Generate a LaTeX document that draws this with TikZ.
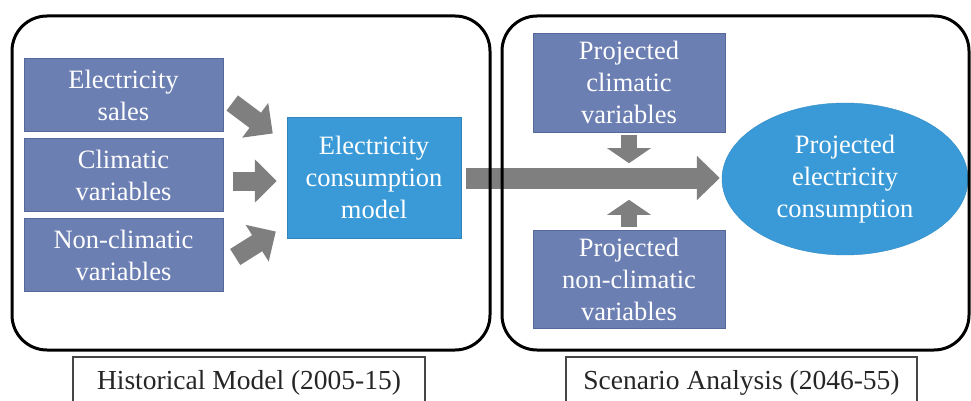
\documentclass[tikz,border=0pt]{standalone}
\usepackage{fontspec}
\setmainfont{Liberation Serif}
\usepackage{xcolor}
\usepackage{tikz}
\usetikzlibrary{shapes.geometric,arrows.meta,calc}
\definecolor{slateblue}{RGB}{108,127,178}
\definecolor{slateedge}{RGB}{86,104,154}
\definecolor{modelblue}{RGB}{58,154,216}
\definecolor{arrowgray}{RGB}{127,127,127}
\definecolor{capgray}{RGB}{70,70,70}

\begin{document}
\begin{tikzpicture}[x=1pt, y=-1pt, node distance=80pt]
    \tikzstyle{input} = [rectangle, minimum width=199pt, minimum height=73pt, inner sep=0pt, align=center, draw=slateedge, fill=slateblue, text=white, font=\fontsize{26.5}{32}\selectfont]
    \tikzstyle{model} = [rectangle, minimum width=174pt, minimum height=121pt, inner sep=0pt, align=center, draw=modelblue!85!black, fill=modelblue, text=white, font=\fontsize{26.5}{32}\selectfont]
    \tikzstyle{result} = [ellipse, minimum width=246pt, minimum height=152pt, inner sep=0pt, align=center, draw=modelblue!90!black, fill=modelblue, text=white, font=\fontsize{26.5}{32}\selectfont]
    \tikzstyle{frame} = [rectangle, rounded corners=35pt, minimum height=334pt, draw=black, line width=3pt]
    \tikzstyle{caption} = [rectangle, minimum width=352pt, minimum height=52pt, draw=capgray, line width=1.2pt, fill=white, text=black!85, font=\fontsize{27.5}{32}\selectfont]
    \tikzstyle{fat} = [draw=arrowgray, line width=19pt, -{Triangle[length=22pt,width=42pt]}]

    \clip (0,0) rectangle (971,401);

    % Historical inputs
    \node [input] (sales) at (123.5,95) {Electricity\\sales};
    \node [input, below of=sales] (clim) {Climatic\\variables};
    \node [input, below of=clim] (nonclim) {Non-climatic\\variables};
    \node [model] (model) at (374,177.5) {Electricity\\consumption\\model};

    % Scenario inputs
    \node [input, minimum width=192pt, minimum height=99pt] (pc) at (629,82.5) {Projected\\climatic\\variables};
    \node [input, minimum width=192pt, minimum height=98pt, below of=pc, node distance=196.5pt] (pn) {Projected\\non-climatic\\variables};
    \node [result] (proj) at (845,179) {Projected\\electricity\\consumption};

    % Arrows
    \draw [fat] ($(sales.east)+(9,8)$) -- ($(model.west)+(-14,-44)$);
    \draw [fat] ($(clim.east)+(10,6)$) -- ($(model.west)+(-10,3.5)$);
    \draw [fat] ($(nonclim.east)+(12,2)$) -- ($(model.west)+(-11,54)$);
    \draw [fat, line width=21pt, -{Triangle[length=23pt,width=43pt]}] ($(model.east)+(5,0.5)$) -- ($(proj.west)+(-2,-1)$);
    \coordinate (downtip) at ($(pc.south)+(0,31)$);
    \coordinate (uptip) at ($(pn.north)+(0,-30)$);
    \draw [fat, line width=16pt, -{Triangle[length=15pt,width=43pt]}] ($(pc.south)+(0,3)$) -- (downtip);
    \draw [fat, line width=16pt, -{Triangle[length=15pt,width=43pt]}] ($(pn.north)+(0,-3)$) -- (uptip);

    % Frames and captions
    \node [frame, minimum width=478pt] (histframe) at (251,183) {};
    \node [frame, minimum width=467pt] (scenframe) at (735.5,183) {};
    \node [caption] (histcap) at (249,383) {Historical Model (2005-15)};
    \node [caption, minimum width=351pt] (scencap) at (741.5,383) {Scenario Analysis (2046-55)};
\end{tikzpicture}
\end{document}
